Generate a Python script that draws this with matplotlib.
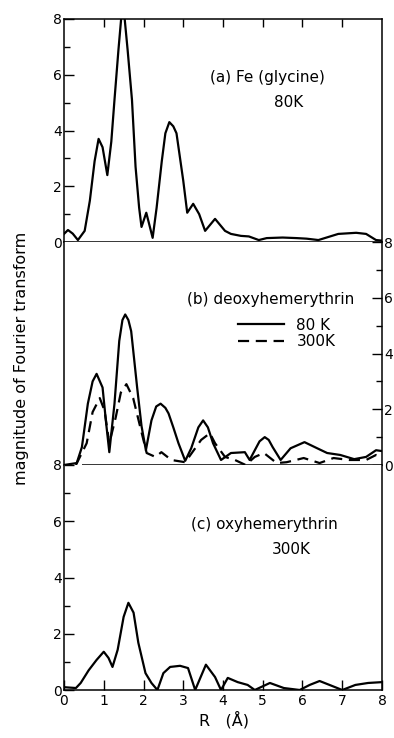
import numpy as np
import matplotlib
matplotlib.use('Agg')
import matplotlib.pyplot as plt
from matplotlib.ticker import MultipleLocator

# (a) Fe(glycine), 80 K
a_r = [0.0, 0.1, 0.22, 0.35, 0.52, 0.65, 0.77, 0.87, 0.97, 1.09, 1.19, 1.27, 1.37,
       1.48, 1.6, 1.71, 1.8, 1.89, 1.95, 2.07, 2.23, 2.33, 2.46, 2.55, 2.65, 2.75,
       2.83, 3.0, 3.1, 3.25, 3.4, 3.55, 3.8, 4.05, 4.2, 4.45, 4.65, 4.9, 5.1, 5.5,
       5.85, 6.1, 6.4, 6.9, 7.35, 7.6, 7.85, 8.0]
a_v = [0.29, 0.43, 0.3, 0.07, 0.4, 1.48, 2.9, 3.7, 3.4, 2.4, 3.6, 5.1, 6.9,
       8.7, 6.9, 5.1, 2.7, 1.23, 0.54, 1.05, 0.15, 1.23, 2.9, 3.9, 4.3, 4.15,
       3.9, 2.2, 1.05, 1.37, 1.0, 0.4, 0.83, 0.4, 0.29, 0.22, 0.2, 0.07, 0.14, 0.16,
       0.14, 0.12, 0.07, 0.29, 0.33, 0.29, 0.07, 0.05]

# (b) deoxyhemerythrin, 80 K (solid)
b80_r = [0.0, 0.32, 0.45, 0.6, 0.72, 0.82, 0.97, 1.06, 1.14, 1.27, 1.39, 1.47, 1.54,
         1.62, 1.69, 1.84, 1.95, 2.06, 2.2, 2.32, 2.43, 2.55, 2.63, 2.75, 2.88, 3.05,
         3.2, 3.38, 3.5, 3.62, 3.75, 3.95, 4.2, 4.55, 4.67, 4.8, 4.92, 5.05, 5.15,
         5.25, 5.45, 5.7, 6.05, 6.37, 6.62, 6.95, 7.3, 7.6, 7.85, 8.0]
b80_v = [0.0, 0.07, 0.64, 2.2, 3.0, 3.27, 2.78, 1.5, 0.46, 2.2, 4.45, 5.2, 5.4,
         5.2, 4.8, 2.78, 1.4, 0.53, 1.6, 2.1, 2.2, 2.05, 1.85, 1.35, 0.78, 0.15,
         0.6, 1.35, 1.6, 1.35, 0.78, 0.18, 0.43, 0.46, 0.18, 0.53, 0.85, 1.0, 0.9,
         0.64, 0.18, 0.6, 0.82, 0.6, 0.43, 0.36, 0.21, 0.29, 0.53, 0.5]

# (b) deoxyhemerythrin, 300 K (dashed)
b300_r = [0.3, 0.57, 0.72, 0.9, 1.02, 1.14, 1.3, 1.43, 1.57, 1.74, 1.92, 2.08, 2.3,
          2.45, 2.7, 3.05, 3.2, 3.45, 3.67, 3.8, 4.05, 4.3, 4.57, 4.8, 5.03, 5.35,
          5.6, 6.03, 6.43, 6.78, 7.18, 7.6, 7.85, 8.0]
b300_v = [0.0, 0.78, 1.9, 2.4, 1.95, 0.78, 1.7, 2.6, 2.9, 2.4, 1.35, 0.43, 0.29,
          0.46, 0.18, 0.1, 0.4, 0.9, 1.14, 0.78, 0.29, 0.18, 0.0, 0.29, 0.43, 0.07,
          0.1, 0.25, 0.07, 0.25, 0.18, 0.18, 0.36, 0.3]

# (c) oxyhemerythrin, 300 K
c_r = [0.0, 0.3, 0.42, 0.62, 0.82, 1.0, 1.12, 1.22, 1.35, 1.5, 1.62, 1.75, 1.87,
       2.05, 2.2, 2.35, 2.5, 2.67, 2.92, 3.12, 3.3, 3.57, 3.8, 3.95, 4.12, 4.37,
       4.62, 4.8, 5.18, 5.53, 5.93, 6.18, 6.43, 6.68, 7.0, 7.33, 7.65, 8.0]
c_v = [0.1, 0.07, 0.25, 0.7, 1.07, 1.36, 1.14, 0.82, 1.43, 2.6, 3.1, 2.75, 1.68,
       0.6, 0.25, 0.0, 0.6, 0.82, 0.86, 0.78, 0.0, 0.9, 0.46, 0.0, 0.43, 0.28,
       0.18, 0.0, 0.25, 0.07, 0.0, 0.18, 0.32, 0.18, 0.0, 0.18, 0.25, 0.28]

plt.rcParams['font.family'] = ['DejaVu Sans']

W, H = 394, 738
fig = plt.figure(figsize=(W / 100, H / 100), dpi=100)


def box(l, t, r, b):
    return [l / W, 1 - b / H, (r - l) / W, (b - t) / H]


ax_a = fig.add_axes(box(64, 19, 382, 242))
ax_b = fig.add_axes(box(64, 242, 382, 465))
ax_c = fig.add_axes(box(64, 465, 382, 690))

lw = 1.6
line_kw = dict(color='k', lw=lw, solid_joinstyle='round', dash_joinstyle='round')
ax_a.plot(a_r, a_v, **line_kw)
ax_b.plot(b80_r, b80_v, label='80 K', **line_kw)
ax_b.plot(b300_r, b300_v, ls=(0, (5, 3)), label='300K', **line_kw)
ax_b.hlines(0, 0.45, 8, color='k', lw=1.1)
ax_c.plot(c_r, c_v, **line_kw)

for ax in (ax_a, ax_b, ax_c):
    ax.set_xlim(0, 8)
    ax.set_ylim(0, 8)
    for s in ax.spines.values():
        s.set_linewidth(1.1)
    ax.tick_params(which='both', direction='in', width=1.0, labelsize=10, pad=1.5)
    ax.tick_params(which='major', length=7)
    ax.tick_params(which='minor', length=4)

# panel a
ax_a.set_xticks(range(1, 8))
ax_a.xaxis.tick_top()
ax_a.tick_params(axis='x', labeltop=False, length=6)
ax_a.yaxis.set_major_locator(MultipleLocator(2))
ax_a.yaxis.set_minor_locator(MultipleLocator(1))

# panel b
ax_b.spines['bottom'].set_visible(False)
ax_b.spines['top'].set_visible(False)
ax_b.set_xticks([])
ax_b.yaxis.tick_right()
ax_b.yaxis.set_major_locator(MultipleLocator(2))
ax_b.yaxis.set_minor_locator(MultipleLocator(1))

# panel c
ax_c.spines['top'].set_visible(False)
ax_c.set_xticks(range(0, 9))
ax_c.tick_params(axis='x', pad=3)
ax_c.yaxis.set_major_locator(MultipleLocator(2))
ax_c.yaxis.set_minor_locator(MultipleLocator(1))

fs = 11
ax_a.text(5.12, 5.9, '(a) Fe (glycine)', ha='center', va='center', fontsize=fs)
ax_a.text(5.66, 5.0, '80K', ha='center', va='center', fontsize=fs)
ax_b.text(5.2, 5.95, '(b) deoxyhemerythrin', ha='center', va='center', fontsize=fs)
ax_b.legend(loc='center left', bbox_to_anchor=(0.548, 0.59), frameon=False,
            fontsize=fs, handlelength=3.0, handletextpad=0.8, labelspacing=0.1,
            borderpad=0, borderaxespad=0)
ax_c.text(5.05, 5.9, '(c) oxyhemerythrin', ha='center', va='center', fontsize=fs)
ax_c.text(5.72, 5.0, '300K', ha='center', va='center', fontsize=fs)

fig.text(22 / W, 1 - 358 / H, 'magnitude of Fourier transform', rotation=90,
         ha='center', va='center', fontsize=11.5)
fig.text(224 / W, 1 - 720 / H, 'R   (Å)', ha='center', va='center', fontsize=11.5)

fig.savefig('out.png', dpi=100)
